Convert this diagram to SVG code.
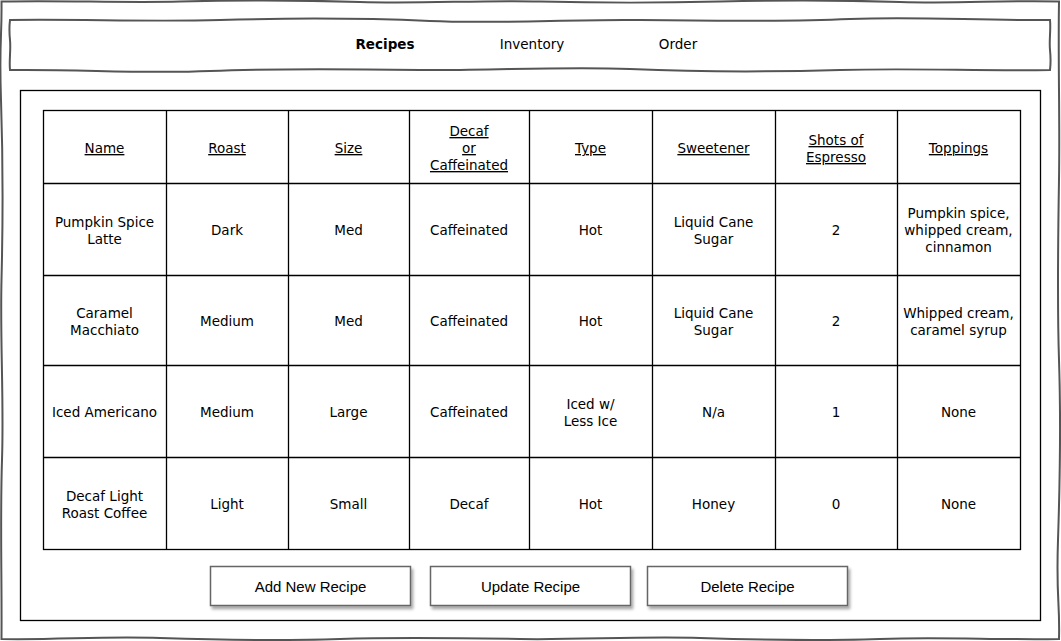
<svg xmlns="http://www.w3.org/2000/svg" width="1061" height="641" viewBox="0 0 1061 641">
<defs>
<style>
.t{font-family:"DejaVu Sans",Verdana,sans-serif;font-size:13.5px;fill:#000;text-anchor:middle}
.h{text-decoration:underline}
.nav{font-family:"DejaVu Sans",Verdana,sans-serif;font-size:13.5px;fill:#000;text-anchor:middle}
.btn{fill:#fff;stroke:#666;stroke-width:1.5}
.bt{font-family:"Liberation Sans",Arial,sans-serif;font-size:15px;fill:#000;text-anchor:middle}
.grid{stroke:#000;stroke-width:1.3;fill:none}
.wavy{fill:#fff;stroke:#555;stroke-width:2}
</style>
<filter id="sh" x="-10%" y="-20%" width="130%" height="160%">
<feDropShadow dx="2" dy="3" stdDeviation="1.5" flood-color="#000" flood-opacity="0.35"/>
</filter>
</defs>
<rect width="1061" height="641" fill="#fff"/>
<g id="frame">
<path class="wavy" d="M1.5,1.5 C60,0 120,3 180,1.5 S300,0 360,2 S480,0 540,1.5 S660,3 720,1.5 S840,0 900,2 S1000,0 1059,1.5 C1058,60 1060,120 1059,180 S1057,300 1059,360 S1060,480 1058,540 S1060,600 1059,639 C1000,640 940,637 880,639 S760,640 700,638 S580,640 520,639 S400,637 340,639 S220,640 160,638 S60,640 1.5,639 C2,580 0,520 2,460 S0,340 1.5,280 S3,160 1,100 S2,40 1.5,1.5 Z"/>
</g>
<g id="navbar">
<path class="wavy" d="M10,20 C80,19 150,22 220,20 S360,18 430,21 S570,19 640,20 S780,22 850,19 S980,21 1050,20 C1051,30 1049,40 1050,50 S1051,62 1050,70 C980,71 910,68 840,70 S700,72 630,69 S490,71 420,70 S280,68 210,71 S80,69 10,70 C9,60 11,50 10,40 S9,28 10,20 Z"/>
<text class="nav" x="385" y="49" font-weight="bold">Recipes</text>
<text class="nav" x="532" y="49">Inventory</text>
<text class="nav" x="678" y="49">Order</text>
</g>
<g id="panel">
<rect x="20.5" y="90.5" width="1020" height="530" fill="#fff" stroke="#000" stroke-width="1.3"/>
</g>
<g id="table">
<rect class="grid" x="43.5" y="110.5" width="977" height="439"/>
<path class="grid" d="M166.5,110.5V549.5M288.5,110.5V549.5M409.5,110.5V549.5M529.5,110.5V549.5M652.5,110.5V549.5M775.5,110.5V549.5M897.5,110.5V549.5M43.5,183.5H1020.5M43.5,275.5H1020.5M43.5,365.5H1020.5M43.5,457.5H1020.5"/>
<g id="header">
<text class="t h" x="104.5" y="153">Name</text>
<text class="t h" x="227" y="153">Roast</text>
<text class="t h" x="348.5" y="153">Size</text>
<text class="t h" x="469" y="136">Decaf</text>
<text class="t h" x="469" y="153">or</text>
<text class="t h" x="469" y="170">Caffeinated</text>
<text class="t h" x="590.5" y="153">Type</text>
<text class="t h" x="713.5" y="153">Sweetener</text>
<text class="t h" x="836" y="145">Shots of</text>
<text class="t h" x="836" y="162">Espresso</text>
<text class="t h" x="958.5" y="153">Toppings</text>
</g>
<g id="row1">
<text class="t" x="104.5" y="227">Pumpkin Spice</text>
<text class="t" x="104.5" y="244">Latte</text>
<text class="t" x="227" y="235">Dark</text>
<text class="t" x="348.5" y="235">Med</text>
<text class="t" x="469" y="235">Caffeinated</text>
<text class="t" x="590.5" y="235">Hot</text>
<text class="t" x="713.5" y="227">Liquid Cane</text>
<text class="t" x="713.5" y="244">Sugar</text>
<text class="t" x="836" y="235">2</text>
<text class="t" x="958.5" y="218">Pumpkin spice,</text>
<text class="t" x="958.5" y="235">whipped cream,</text>
<text class="t" x="958.5" y="252">cinnamon</text>
</g>
<g id="row2">
<text class="t" x="104.5" y="318">Caramel</text>
<text class="t" x="104.5" y="335">Macchiato</text>
<text class="t" x="227" y="326">Medium</text>
<text class="t" x="348.5" y="326">Med</text>
<text class="t" x="469" y="326">Caffeinated</text>
<text class="t" x="590.5" y="326">Hot</text>
<text class="t" x="713.5" y="318">Liquid Cane</text>
<text class="t" x="713.5" y="335">Sugar</text>
<text class="t" x="836" y="326">2</text>
<text class="t" x="958.5" y="318">Whipped cream,</text>
<text class="t" x="958.5" y="335">caramel syrup</text>
</g>
<g id="row3">
<text class="t" x="104.5" y="417">Iced Americano</text>
<text class="t" x="227" y="417">Medium</text>
<text class="t" x="348.5" y="417">Large</text>
<text class="t" x="469" y="417">Caffeinated</text>
<text class="t" x="590.5" y="409">Iced w/</text>
<text class="t" x="590.5" y="426">Less Ice</text>
<text class="t" x="713.5" y="417">N/a</text>
<text class="t" x="836" y="417">1</text>
<text class="t" x="958.5" y="417">None</text>
</g>
<g id="row4">
<text class="t" x="104.5" y="501">Decaf Light</text>
<text class="t" x="104.5" y="518">Roast Coffee</text>
<text class="t" x="227" y="509">Light</text>
<text class="t" x="348.5" y="509">Small</text>
<text class="t" x="469" y="509">Decaf</text>
<text class="t" x="590.5" y="509">Hot</text>
<text class="t" x="713.5" y="509">Honey</text>
<text class="t" x="836" y="509">0</text>
<text class="t" x="958.5" y="509">None</text>
</g>
</g>
<g id="btn-add">
<rect class="btn" x="210.5" y="566.5" width="200" height="39" filter="url(#sh)"/>
<text class="bt" x="310.5" y="592">Add New Recipe</text>
</g>
<g id="btn-update">
<rect class="btn" x="430.5" y="566.5" width="200" height="39" filter="url(#sh)"/>
<text class="bt" x="530.5" y="592">Update Recipe</text>
</g>
<g id="btn-delete">
<rect class="btn" x="647.5" y="566.5" width="200" height="39" filter="url(#sh)"/>
<text class="bt" x="747.5" y="592">Delete Recipe</text>
</g>
<g id="connectors"></g>
</svg>
